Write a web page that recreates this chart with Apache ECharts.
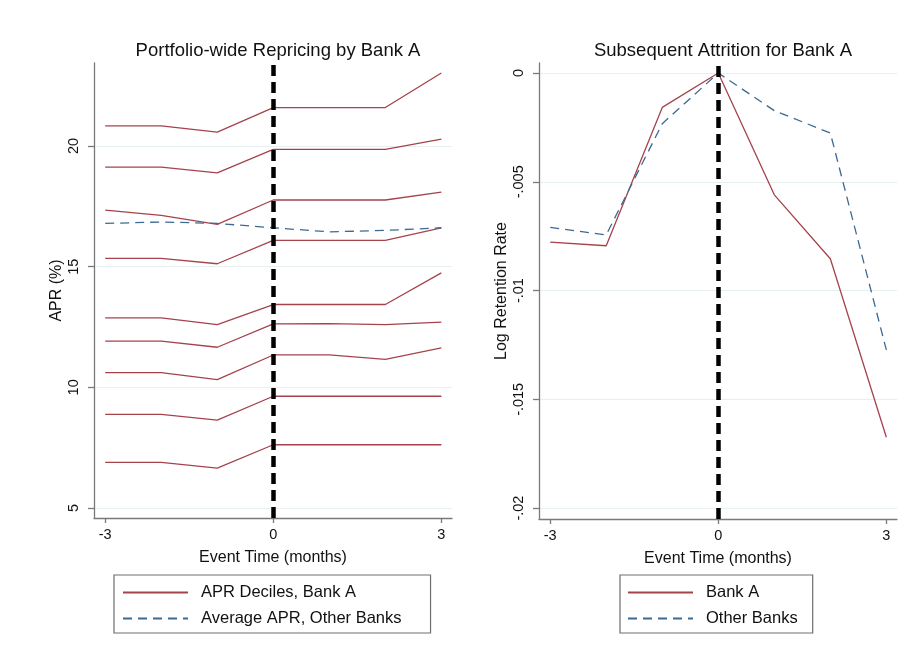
<!DOCTYPE html>
<html>
<head>
<meta charset="utf-8">
<script src="https://cdn.jsdelivr.net/npm/echarts@6/dist/echarts.min.js"></script>
<style>
html,body{margin:0;padding:0;background:#fff;}
#chart{width:918px;height:668px;}
</style>
</head>
<body>
<div id="chart"></div>
<script>
// ---- data ----
var eventTime = [-3, -2, -1, 0, 1, 2, 3];
var xTicks = [-3, 0, 3];
var aprTicks = [5, 10, 15, 20];
var retTicks = [0, -0.005, -0.01, -0.015, -0.02];

var decile1 = [20.83, 20.83, 20.57, 21.59, 21.59, 21.59, 23.02];
var decile2 = [19.12, 19.12, 18.88, 19.86, 19.86, 19.86, 20.28];
var decile3 = [17.34, 17.12, 16.75, 17.76, 17.76, 17.76, 18.09];
var decile4 = [15.34, 15.34, 15.12, 16.09, 16.09, 16.09, 16.61];
var decile5 = [12.88, 12.88, 12.60, 13.43, 13.43, 13.43, 14.74];
var decile6 = [11.91, 11.91, 11.66, 12.63, 12.64, 12.60, 12.70];
var decile7 = [10.61, 10.61, 10.32, 11.34, 11.34, 11.16, 11.63];
var decile8 = [8.88, 8.88, 8.64, 9.63, 9.63, 9.63, 9.63];
var decile9 = [6.89, 6.89, 6.65, 7.62, 7.62, 7.62, 7.62];
var otherBanksAPR = [16.79, 16.85, 16.79, 16.61, 16.44, 16.50, 16.61];

var bankARetention = [-0.00777, -0.00794, -0.00158, 0, -0.0056, -0.00854, -0.01674];
var otherBanksRetention = [-0.0071, -0.00744, -0.00233, 0, -0.00173, -0.00276, -0.01273];

var deciles = [decile1, decile2, decile3, decile4, decile5, decile6, decile7, decile8, decile9];

// ---- styling ----
var RED = '#a5434c';
var BLUE = '#3d6a92';
var FONT = '"Liberation Sans", Arial, Helvetica, sans-serif';
var AXIS_COLOR = '#7a7a7a';
var GRID_COLOR = '#e8eff1';

function pair(xs, ys) { return xs.map(function (x, i) { return [x, ys[i]]; }); }
function fmtRet(v) { return v === 0 ? '0' : String(v).replace('0.', '.'); }

function xAxisCfg(gi) {
  return {
    type: 'value', gridIndex: gi, min: -3.2, max: 3.19,
    name: 'Event Time (months)', nameLocation: 'middle', nameGap: 32,
    nameTextStyle: { fontFamily: FONT, fontSize: 16, color: '#111' },
    axisLine: { show: true, onZero: false, lineStyle: { color: AXIS_COLOR, width: 1.3 } },
    axisTick: { show: true, length: 5, customValues: xTicks, lineStyle: { color: AXIS_COLOR, width: 1.3 } },
    axisLabel: { customValues: xTicks, margin: 9, fontFamily: FONT, fontSize: 14.5, color: '#111' },
    splitLine: { show: false }
  };
}
function yAxisCfg(gi, min, max, ticks, name, fmt, gap) {
  return {
    type: 'value', gridIndex: gi, min: min, max: max,
    name: name, nameLocation: 'middle', nameGap: gap, nameRotate: 90,
    nameTextStyle: { fontFamily: FONT, fontSize: 16, color: '#111' },
    axisLine: { show: true, onZero: false, lineStyle: { color: AXIS_COLOR, width: 1.3 } },
    axisTick: { show: true, length: 6, customValues: ticks, lineStyle: { color: AXIS_COLOR, width: 1.3 } },
    axisLabel: { customValues: ticks, rotate: 90, margin: 13, fontFamily: FONT, fontSize: 14.5, color: '#111', formatter: fmt },
    splitLine: { show: true, lineStyle: { color: GRID_COLOR, width: 1.2 } }
  };
}

var vline = {
  silent: true, symbol: ['none', 'none'],
  label: { show: false },
  lineStyle: { color: '#000', width: 4.5, type: [11, 6] },
  data: [{ xAxis: 0 }]
};

var series = [];
deciles.forEach(function (d, i) {
  series.push({
    type: 'line', name: 'APR Deciles, Bank A', xAxisIndex: 0, yAxisIndex: 0,
    data: pair(eventTime, d), symbol: 'none', silent: true,
    lineStyle: { color: RED, width: 1.3 }, itemStyle: { color: RED },
    markLine: i === 0 ? vline : undefined, z: 3
  });
});
series.push({
  type: 'line', name: 'Average APR, Other Banks', xAxisIndex: 0, yAxisIndex: 0,
  data: pair(eventTime, otherBanksAPR), symbol: 'none', silent: true,
  lineStyle: { color: BLUE, width: 1.3, type: [9, 6] }, itemStyle: { color: BLUE }, z: 3
});
series.push({
  type: 'line', name: 'Bank A', xAxisIndex: 1, yAxisIndex: 1,
  data: pair(eventTime, bankARetention), symbol: 'none', silent: true,
  lineStyle: { color: RED, width: 1.3 }, itemStyle: { color: RED },
  markLine: vline, z: 3
});
series.push({
  type: 'line', name: 'Other Banks', xAxisIndex: 1, yAxisIndex: 1,
  data: pair(eventTime, otherBanksRetention), symbol: 'none', silent: true,
  lineStyle: { color: BLUE, width: 1.3, type: [9, 6] }, itemStyle: { color: BLUE }, z: 3
});

var legendCommon = {
  orient: 'vertical', top: 575, itemWidth: 65, itemHeight: 14, itemGap: 9,
  borderColor: '#6e6e6e', borderWidth: 1.2, borderRadius: 0, backgroundColor: '#fff',
  itemStyle: { opacity: 0 },
  textStyle: { fontFamily: FONT, fontSize: 16.5, color: '#111', padding: [0, 0, 0, 8] },
  selectedMode: false
};

var option = {
  animation: false,
  backgroundColor: '#fff',
  title: [
    { text: 'Portfolio-wide Repricing by Bank A', left: 273, top: 36, textAlign: 'center',
      textStyle: { fontFamily: FONT, fontSize: 18.5, fontWeight: 'normal', color: '#111' } },
    { text: 'Subsequent Attrition for Bank A', left: 718, top: 36, textAlign: 'center',
      textStyle: { fontFamily: FONT, fontSize: 18.5, fontWeight: 'normal', color: '#111' } }
  ],
  legend: [
    Object.assign({}, legendCommon, { left: 114, padding: [9, 29, 6, 8],
      data: ['APR Deciles, Bank A', 'Average APR, Other Banks'] }),
    Object.assign({}, legendCommon, { left: 620, padding: [9, 15, 6, 7],
      data: ['Bank A', 'Other Banks'] })
  ],
  grid: [
    { left: 94, top: 63, width: 358, height: 455 },
    { left: 539, top: 63, width: 358, height: 456 }
  ],
  xAxis: [xAxisCfg(0), xAxisCfg(1)],
  yAxis: [
    yAxisCfg(0, 4.586, 23.436, aprTicks, 'APR (%)', function (v) { return String(v); }, 29),
    yAxisCfg(1, -0.0205, 0.00046, retTicks, 'Log Retention Rate', fmtRet, 29)
  ],
  series: series
};

var chart = echarts.init(document.getElementById('chart'), null, { renderer: 'canvas' });
chart.setOption(option);
</script>
</body>
</html>
